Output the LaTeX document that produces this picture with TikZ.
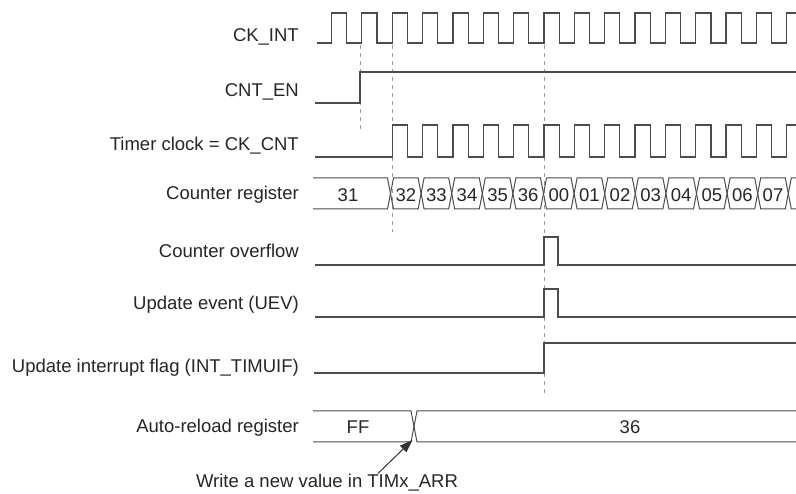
\documentclass[tikz,border=0pt]{standalone}
\usepackage{fontspec}
\setmainfont{Liberation Sans}
\usetikzlibrary{arrows.meta}

\begin{document}
\begin{tikzpicture}[x=1pt,y=-1pt,
    sig/.style={line width=1.2pt,draw=black!70},
    bus/.style={line width=1pt,draw=black!70},
    guide/.style={draw=black!40,line width=0.6pt,dash pattern=on 4pt off 4pt},
    lbl/.style={anchor=base east,inner sep=0pt,font=\fontsize{18.5}{22}\selectfont,text=black!85},
    val/.style={anchor=base,inner sep=0pt,font=\fontsize{18.5}{22}\selectfont,text=black!85}]
    \useasboundingbox[fill=white] (0,0) rectangle (796,494);
    % signal names
    \node[lbl] (ckint) at (299,42) {CK\_INT};
    \node[lbl] (cnten) at (299,97) {CNT\_EN};
    \node[lbl] (ckcnt) at (299,151) {Timer clock = CK\_CNT};
    \node[lbl] (cntreg) at (299,199.5) {Counter register};
    \node[lbl] (ovf) at (299,258) {Counter overflow};
    \node[lbl] (uev) at (299,310) {Update event (UEV)};
    \node[lbl] (uif) at (299,373) {Update interrupt flag (INT\_TIMUIF)};
    \node[lbl] (arr) at (299,433) {Auto-reload register};
    % dashed guides
    \draw[guide] (360,45) -- (360,133);
    \draw[guide] (392.2,45) -- (392.2,232);
    \draw[guide] (544,45) -- (544,395);
    % CK_INT
    \draw[sig] (317,43) foreach \k in {0,...,15} {
        -- ({331.5+30.35*\k},43) -- ({331.5+30.35*\k},13)
        -- ({346.7+30.35*\k},13) -- ({346.7+30.35*\k},43)};
    % CNT_EN
    \draw[sig] (315,103) -- (360,103) -- (360,72) -- (796,72);
    % CK_CNT, gated from the second edge on
    \draw[sig] (315,157) foreach \k in {2,...,15} {
        -- ({331.5+30.35*\k},157) -- ({331.5+30.35*\k},125)
        -- ({346.7+30.35*\k},125) -- ({346.7+30.35*\k},157)};
    % counter register
    \draw[bus] (313,178) -- (387.5,178) -- (390.5,193.5) -- (387.5,209) -- (313,209);
    \node[val] (c31) at (348,202) {31};
    \foreach \v [count=\j from 0] in {32,33,34,35,36,00,01,02,03,04,05,06,07} {
        \draw[bus] ({390.5+30.6*\j},193.5) -- ({393.5+30.6*\j},178)
            -- ({418.1+30.6*\j},178) -- ({421.1+30.6*\j},193.5)
            -- ({418.1+30.6*\j},209) -- ({393.5+30.6*\j},209) -- cycle;
        \node[val] at ({405.8+30.6*\j},202) {\v};
    }
    \draw[bus] (796,178) -- (791.3,178) -- (788.3,193.5) -- (791.3,209) -- (796,209);
    % overflow and update event pulses
    \draw[sig] (315,265) -- (544,265) -- (544,237) -- (558,237) -- (558,265) -- (796,265);
    \draw[sig] (315,317) -- (544,317) -- (544,289) -- (558,289) -- (558,317) -- (796,317);
    % interrupt flag
    \draw[sig] (314,373) -- (544,373) -- (544,343) -- (796,343);
    % auto-reload register
    \draw[bus] (313,411) -- (411,411) -- (417,442) -- (796,442);
    \draw[bus] (313,442) -- (411,442) -- (417,411) -- (796,411);
    \node[val] (ff) at (358,434) {FF};
    \node[val] (n36) at (630,434) {36};
    \coordinate (wrpt) at (412.5,440);
    % note
    \node[val] (wrnote) at (327,487) {Write a new value in TIMx\_ARR};
    \draw[-{Triangle[length=13pt,width=9pt]},line width=1pt,black!80]
        ([xshift=51pt]wrnote.north) -- (wrpt);
\end{tikzpicture}
\end{document}
